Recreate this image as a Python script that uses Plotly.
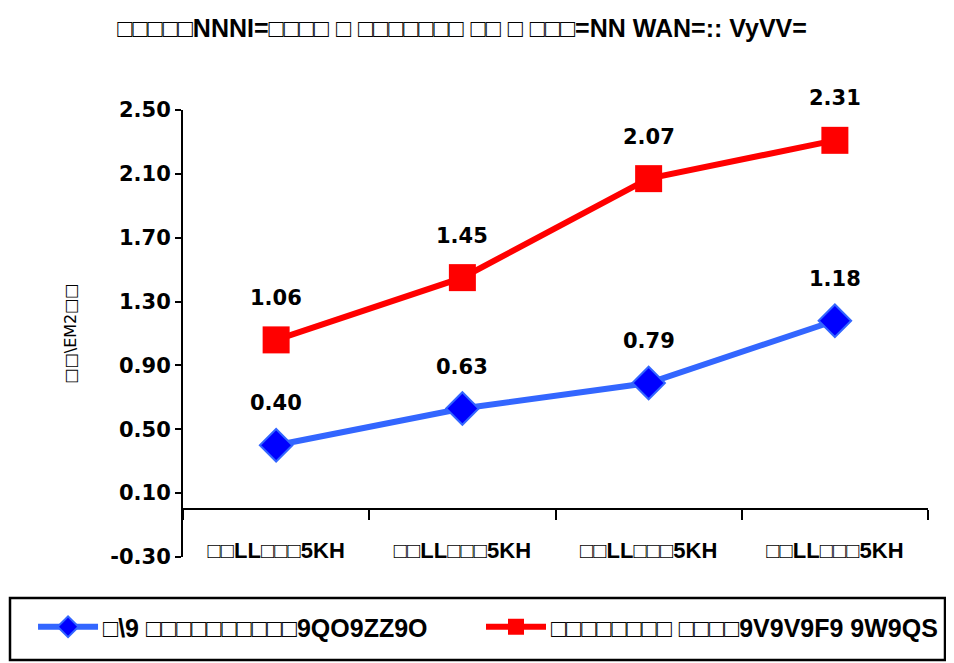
import plotly.graph_objects as go

# ---- data ----
categories = ["□□LL□□□5KH", "□□LL□□□5KH", "□□LL□□□5KH", "□□LL□□□5KH"]
x_pos = [0, 1, 2, 3]
series_blue_name = "□\\9 □□□□□□□□□□9QO9ZZ9O"
series_blue = [0.40, 0.63, 0.79, 1.18]
series_red_name = "□□□□□□□□ □□□□9V9V9F9 9W9QS"
series_red = [1.06, 1.45, 2.07, 2.31]
y_ticks = [-0.30, 0.10, 0.50, 0.90, 1.30, 1.70, 2.10, 2.50]
title_text = "□□□□□NNNI=□□□□ □ □□□□□□□ □□ □ □□□=NN WAN=:: VyVV="
y_title = "□□\\EM2□□"

FONT = "DejaVu Sans, Liberation Sans, sans-serif"
LFONT = "Liberation Sans, Arial, sans-serif"

fig = go.Figure()
fig.add_trace(go.Scatter(
    x=x_pos, y=series_blue, name=series_blue_name, mode="lines+markers", legend="legend",
    line=dict(color="#3366FF", width=6),
    marker=dict(symbol="diamond", size=25, color="#0000FF", line=dict(color="#3366FF", width=2)),
))
fig.add_trace(go.Scatter(
    x=x_pos, y=series_red, name=series_red_name, mode="lines+markers", legend="legend2",
    line=dict(color="#FF0000", width=6),
    marker=dict(symbol="square", size=27, color="#FF0000"),
))

for vals in (series_blue, series_red):
    for xi, v in zip(x_pos, vals):
        fig.add_annotation(x=xi, y=v, text=f"{v:.2f}", showarrow=False, yshift=42,
                           font=dict(family=FONT, size=21, color="black", weight="bold"))

# x-axis drawn at y = 0
y0 = -0.30
y1 = 2.50
pos0 = (0 - y0) / (y1 - y0)

legend_common = dict(orientation="h", y=-0.1566, yanchor="middle", xanchor="left",
                     font=dict(family=LFONT, size=25, color="black", weight="bold"),
                     itemwidth=60, bgcolor="rgba(0,0,0,0)", borderwidth=0)

fig.update_layout(
    width=954, height=663,
    paper_bgcolor="white", plot_bgcolor="white",
    margin=dict(l=175, r=34, t=102, b=114, autoexpand=False),
    title=dict(text=title_text, x=0.476, xanchor="center", y=0.97, yanchor="middle",
               font=dict(family=LFONT, size=25, color="black", weight="bold")),
    showlegend=True,
    legend=dict(x=-0.2013, **legend_common),
    legend2=dict(x=0.40, **legend_common),
    xaxis=dict(range=[-0.5, 3.5], anchor="free", position=pos0,
               showline=True, linecolor="black", linewidth=2, showgrid=False, zeroline=False,
               tickvals=[-0.5, 0.5, 1.5, 2.5, 3.5], ticktext=["", "", "", "", ""],
               ticks="outside", ticklen=10, tickcolor="black", tickwidth=2),
    xaxis2=dict(range=[-0.5, 3.5], overlaying="x", anchor="free", position=pos0, side="bottom",
                showline=False, showgrid=False, zeroline=False,
                tickvals=x_pos, ticktext=categories, ticks="",
                ticklabelstandoff=26,
                tickfont=dict(family=LFONT, size=22, color="black", weight="bold")),
    yaxis=dict(range=[y0, y1], tickvals=y_ticks, ticktext=[f"{t:.2f}" for t in y_ticks],
               showline=True, linecolor="black", linewidth=2, showgrid=False, zeroline=False,
               ticks="outside", ticklen=6, tickcolor="black", tickwidth=2,
               tickfont=dict(family=FONT, size=21, color="black", weight="bold"),
               title=dict(text=y_title, standoff=30,
                          font=dict(family=FONT, size=16, color="black"))),
    shapes=[dict(type="rect", xref="paper", yref="paper",
                 x0=(10 - 183) / 745, x1=(945 - 183) / 745,
                 y0=(557 - 660) / 447, y1=(557 - 598) / 447,
                 line=dict(color="black", width=2.5), fillcolor="rgba(0,0,0,0)")],
)
# invisible trace so that xaxis2 is drawn
fig.add_trace(go.Scatter(x=x_pos, y=series_blue, xaxis="x2", mode="markers",
                         marker=dict(opacity=0), showlegend=False, hoverinfo="skip"))

fig.write_html("out.html")
